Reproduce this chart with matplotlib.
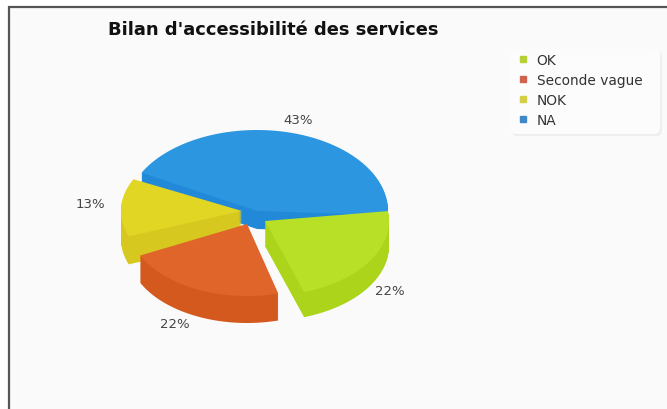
import numpy as np
import matplotlib
matplotlib.use("Agg")
import matplotlib.pyplot as plt
from matplotlib.patches import FancyBboxPatch, Polygon, Rectangle
from matplotlib.lines import Line2D

TITLE = "Bilan d'accessibilité des services"
CATEGORIES = ["OK", "Seconde vague", "NOK", "NA"]
VALUES = [22, 22, 13, 43]

TOP_COLORS = ["#B8E026", "#E0652B", "#E2D625", "#2C96E0"]
WALL_COLORS = ["#ABD41B", "#D4591F", "#D6C81F", "#2288D8"]
LEGEND_COLORS = ["#B9CF3A", "#CF6350", "#D3CF48", "#3F88C8"]

# each slice has its own projection because the original pie is in perspective
APEX = [(265, 222), (247, 225), (242, 212), (257, 212)]
RADII = [(124, 75), (119, 72), (121, 72), (131, 81)]
TURN = [7.6, 4.4, -1, -3]
DEPTH = [25, 27, 28, 18]
LABEL_POS = [(390, 292), (175, 325), (90, 205), (298, 120)]
DRAW_ORDER = [3, 2, 1, 0]


def wedge_points(apex, radii, start, end):
    t = np.radians(np.linspace(start, end, 80))
    x = apex[0] + radii[0] * np.cos(t)
    y = apex[1] - radii[1] * np.sin(t)
    return np.vstack([[apex], np.column_stack([x, y])])


def main():
    fig = plt.figure(figsize=(6.67, 4.1), dpi=100, facecolor="white")
    ax = fig.add_axes([0, 0, 1, 1])
    ax.set_xlim(0, 667)
    ax.set_ylim(410, 0)
    ax.axis("off")

    ax.add_patch(Rectangle((9, 8), 670, 420, fc="#FAFAFA", ec="#555555", lw=1.6, zorder=0))

    # slices run clockwise from the right, in category order
    ends = -np.cumsum(VALUES) * 3.6
    starts = np.concatenate([[0], ends[:-1]])

    for i in DRAW_ORDER:
        pts = wedge_points(APEX[i], RADII[i], starts[i] + TURN[i], ends[i] + TURN[i])
        for d in range(DEPTH[i], 0, -1):
            ax.add_patch(Polygon(pts + [0, d], closed=True, fc=WALL_COLORS[i], ec="none", zorder=2))
        ax.add_patch(Polygon(pts, closed=True, fc=TOP_COLORS[i], ec="none", zorder=2))

    for value, pos in zip(VALUES, LABEL_POS):
        ax.text(pos[0], pos[1], f"{value}%", fontsize=9.5, color="#444444",
                ha="center", va="center", zorder=3)

    ax.text(108, 30, TITLE, fontsize=12.9, fontweight="bold", color="#111111",
            ha="left", va="center", zorder=3)

    # legend box is drawn apart so it can be wider than the legend text
    box = dict(boxstyle="round,pad=0,rounding_size=6", ec="none")
    ax.add_patch(FancyBboxPatch((512, 52), 150, 85, fc="#EEEEEE", zorder=1, **box))
    ax.add_patch(FancyBboxPatch((510, 50), 150, 85, fc="#FCFCFC", zorder=1, **box))

    handles = [Line2D([], [], ls="", marker="s", ms=4.5, color=c) for c in LEGEND_COLORS]
    legend = ax.legend(handles, CATEGORIES, loc="upper left", bbox_to_anchor=(506, 50),
                       bbox_transform=ax.transData, fontsize=9.9, frameon=False,
                       labelcolor="#333333", labelspacing=0.45, handletextpad=0.0,
                       borderpad=0.27, handlelength=1.95, borderaxespad=0)
    legend.set_zorder(3)

    fig.savefig("out.png", dpi=100)


if __name__ == "__main__":
    main()
